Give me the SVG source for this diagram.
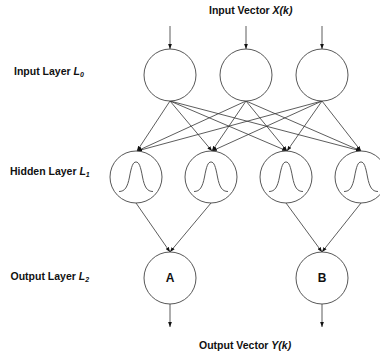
<svg xmlns="http://www.w3.org/2000/svg" width="380" height="354" viewBox="0 0 380 354">
<defs>
<style>
.n{fill:#fff;stroke:#444;stroke-width:0.9}
.c line{stroke:#333;stroke-width:0.8}
.b{fill:none;stroke:#444;stroke-width:0.9}
.t{font-family:"Liberation Sans",Arial,sans-serif;font-size:10.5px;font-weight:bold;fill:#111}
.s{font-size:7px;font-style:italic}
.i{font-style:italic}
.l{font-family:"Liberation Sans",Arial,sans-serif;font-size:12px;font-weight:bold;fill:#111;text-anchor:middle}
</style>
<marker id="ah" viewBox="0 0 8 6" refX="8" refY="3" markerWidth="5" markerHeight="4" orient="auto" markerUnits="userSpaceOnUse">
<path d="M0,0 L8,3 L0,6 Z" fill="#111"/>
</marker>
<path id="bell" d="M-17,14.5 C-11,14.5 -8.5,10 -6.5,0 C-4.5,-11 -3,-15 0,-15 C3,-15 4.5,-11 6.5,0 C8.5,10 11,14.5 17,14.5"/>
</defs>
<rect width="380" height="354" fill="#fff"/>
<g id="labels">
<text class="t" x="209" y="14">Input Vector <tspan class="i">X(k)</tspan></text>
<text class="t" x="14" y="75">Input Layer <tspan class="i">L</tspan><tspan class="s" dy="2">0</tspan></text>
<text class="t" x="10" y="175">Hidden Layer <tspan class="i">L</tspan><tspan class="s" dy="2">1</tspan></text>
<text class="t" x="10.5" y="280">Output Layer <tspan class="i">L</tspan><tspan class="s" dy="2">2</tspan></text>
<text class="t" x="199" y="349">Output Vector <tspan class="i">Y(k)</tspan></text>
</g>
<g id="connectors" class="c">
<line x1="170" y1="26" x2="170" y2="49" marker-end="url(#ah)"/>
<line x1="246" y1="26" x2="246" y2="49" marker-end="url(#ah)"/>
<line x1="322" y1="26" x2="322" y2="49" marker-end="url(#ah)"/>
<line x1="170" y1="101" x2="137" y2="151" marker-end="url(#ah)"/>
<line x1="170" y1="101" x2="212" y2="151" marker-end="url(#ah)"/>
<line x1="170" y1="101" x2="287" y2="151" marker-end="url(#ah)"/>
<line x1="170" y1="101" x2="361" y2="151" marker-end="url(#ah)"/>
<line x1="246" y1="101" x2="137" y2="151" marker-end="url(#ah)"/>
<line x1="246" y1="101" x2="212" y2="151" marker-end="url(#ah)"/>
<line x1="246" y1="101" x2="287" y2="151" marker-end="url(#ah)"/>
<line x1="246" y1="101" x2="361" y2="151" marker-end="url(#ah)"/>
<line x1="322" y1="101" x2="137" y2="151" marker-end="url(#ah)"/>
<line x1="322" y1="101" x2="212" y2="151" marker-end="url(#ah)"/>
<line x1="322" y1="101" x2="287" y2="151" marker-end="url(#ah)"/>
<line x1="322" y1="101" x2="361" y2="151" marker-end="url(#ah)"/>
<line x1="136" y1="203" x2="170" y2="252" marker-end="url(#ah)"/>
<line x1="211" y1="203" x2="170" y2="252" marker-end="url(#ah)"/>
<line x1="286" y1="203" x2="322" y2="252" marker-end="url(#ah)"/>
<line x1="361" y1="203" x2="322" y2="252" marker-end="url(#ah)"/>
<line x1="170" y1="304" x2="170" y2="327" marker-end="url(#ah)"/>
<line x1="322" y1="304" x2="322" y2="327" marker-end="url(#ah)"/>
</g>
<g id="in1"><circle class="n" cx="170" cy="75" r="26"/></g>
<g id="in2"><circle class="n" cx="246" cy="75" r="26"/></g>
<g id="in3"><circle class="n" cx="322" cy="75" r="26"/></g>
<g id="h1"><circle class="n" cx="136" cy="177" r="26"/><use href="#bell" class="b" x="136" y="177"/></g>
<g id="h2"><circle class="n" cx="211" cy="177" r="26"/><use href="#bell" class="b" x="211" y="177"/></g>
<g id="h3"><circle class="n" cx="286" cy="177" r="26"/><use href="#bell" class="b" x="286" y="177"/></g>
<g id="h4"><circle class="n" cx="361" cy="177" r="26"/><use href="#bell" class="b" x="361" y="177"/></g>
<g id="outA"><circle class="n" cx="170" cy="278" r="26"/><text class="l" x="170" y="282">A</text></g>
<g id="outB"><circle class="n" cx="322" cy="278" r="26"/><text class="l" x="322" y="282">B</text></g>
</svg>
